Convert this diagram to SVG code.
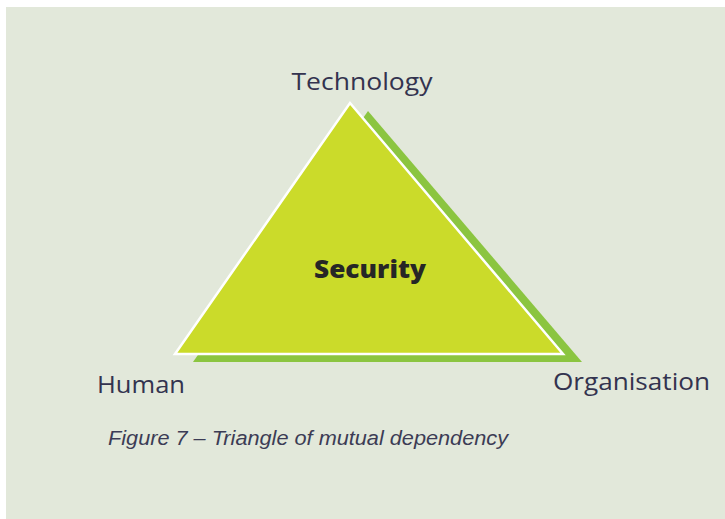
<svg xmlns="http://www.w3.org/2000/svg" width="725" height="519" viewBox="0 0 725 519">
  <style>
    .label { font-family: "Open Sans", "Liberation Sans", sans-serif; font-size: 23px; fill: #33334f; }
    .core { font-family: "Open Sans", "Liberation Sans", sans-serif; font-size: 25px; font-weight: 800; fill: #262626; }
    .caption { font-family: "Liberation Sans", "Open Sans", sans-serif; font-size: 20px; font-style: italic; fill: #3c3c55; }
  </style>
  <rect x="0" y="0" width="725" height="519" fill="#ffffff"/>
  <rect x="6" y="7" width="719" height="512" fill="#e2e8da"/>

  <g id="triangle">
    <!-- offset shadow -->
    <polygon points="368,111 582,362 193,362" fill="#8bc540"/>
    <!-- main triangle -->
    <polygon points="350,103 563,354 175,354" fill="#cbdb2a" stroke="#ffffff" stroke-width="2.5" stroke-linejoin="miter"/>
  </g>

  <g id="security">
    <text class="core" x="314" y="278" textLength="112" lengthAdjust="spacingAndGlyphs">Security</text>
  </g>
  <g id="technology">
    <text class="label" x="362" y="90" text-anchor="middle" textLength="141" lengthAdjust="spacingAndGlyphs">Technology</text>
  </g>
  <g id="human">
    <text class="label" x="97" y="393" textLength="88" lengthAdjust="spacingAndGlyphs">Human</text>
  </g>
  <g id="organisation">
    <text class="label" x="553" y="390" textLength="157" lengthAdjust="spacingAndGlyphs">Organisation</text>
  </g>
  <g id="caption">
    <text class="caption" x="108" y="445" textLength="400" lengthAdjust="spacingAndGlyphs">Figure 7 – Triangle of mutual dependency</text>
  </g>
</svg>
